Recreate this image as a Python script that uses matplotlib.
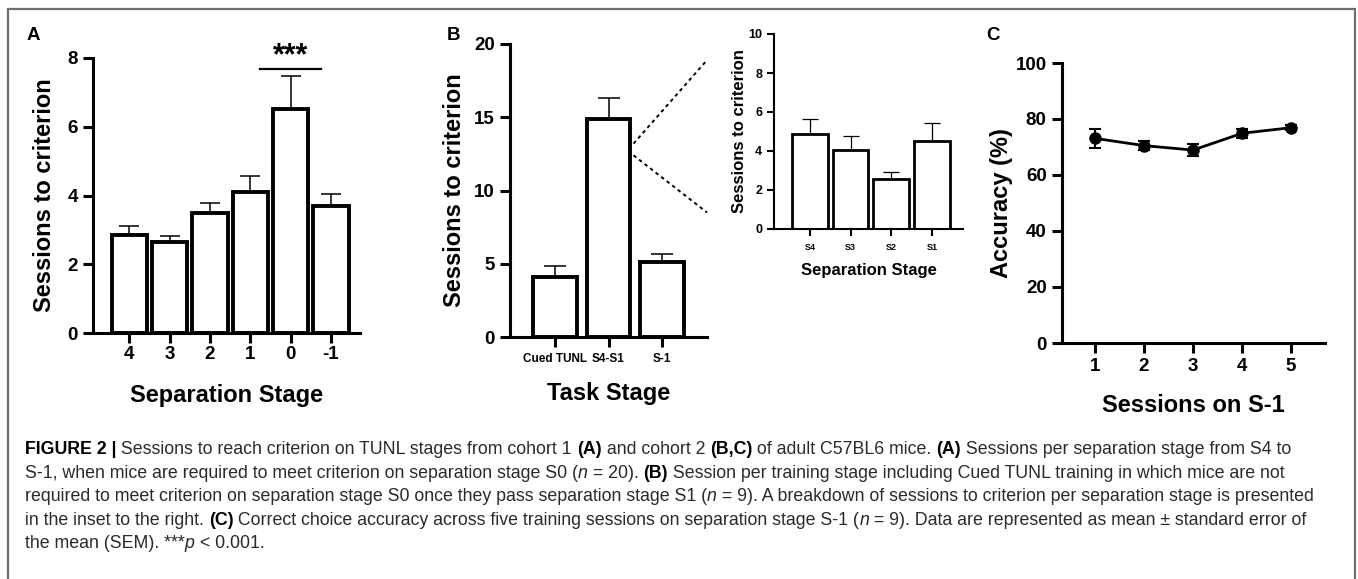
import numpy as np
import matplotlib.pyplot as plt
from matplotlib.patches import Rectangle

plt.rcParams['font.family'] = ['Liberation Sans', 'DejaVu Sans']
plt.rcParams['font.weight'] = 'bold'

# panel A - cohort 1, sessions per separation stage
a_stages = ['4', '3', '2', '1', '0', '-1']
a_mean = [2.85, 2.65, 3.5, 4.1, 6.52, 3.7]
a_sem = [0.25, 0.18, 0.28, 0.47, 0.96, 0.35]

# panel B - cohort 2, sessions per task stage
b_stages = ['Cued TUNL', 'S4-S1', 'S-1']
b_mean = [4.1, 14.9, 5.1]
b_sem = [0.75, 1.4, 0.57]

# inset - breakdown of S4-S1
in_stages = ['S4', 'S3', 'S2', 'S1']
in_mean = [4.87, 4.05, 2.56, 4.51]
in_sem = [0.77, 0.72, 0.36, 0.93]

# panel C - accuracy on S-1
c_sessions = [1, 2, 3, 4, 5]
c_mean = [73.1, 70.5, 68.9, 74.9, 76.9]
c_sem = [3.3, 1.5, 2.2, 1.6, 1.0]

caption = [
    [("FIGURE 2 |", 'b'), (" Sessions to reach criterion on TUNL stages from cohort 1 ", 'n'), ("(A)", 'b'),
     (" and cohort 2 ", 'n'), ("(B,C)", 'b'), (" of adult C57BL6 mice. ", 'n'), ("(A)", 'b'),
     (" Sessions per separation stage from S4 to", 'n')],
    [("S-1, when mice are required to meet criterion on separation stage S0 (", 'n'), ("n", 'i'),
     (" = 20). ", 'n'), ("(B)", 'b'),
     (" Session per training stage including Cued TUNL training in which mice are not", 'n')],
    [("required to meet criterion on separation stage S0 once they pass separation stage S1 (", 'n'),
     ("n", 'i'), (" = 9). A breakdown of sessions to criterion per separation stage is presented", 'n')],
    [("in the inset to the right. ", 'n'), ("(C)", 'b'),
     (" Correct choice accuracy across five training sessions on separation stage S-1 (", 'n'),
     ("n", 'i'), (" = 9). Data are represented as mean \u00b1 standard error of", 'n')],
    [("the mean (SEM). ***", 'n'), ("p", 'i'), (" < 0.001.", 'n')],
]

W, H = 1358, 579
fig = plt.figure(figsize=(W / 100, H / 100), dpi=100)


def px_axes(left, top, right, bottom):
    return fig.add_axes([left / W, 1 - bottom / H, (right - left) / W, (bottom - top) / H])


def style_axes(ax, lw, tick_len, tick_size):
    for s in ['top', 'right']:
        ax.spines[s].set_visible(False)
    for s in ['left', 'bottom']:
        ax.spines[s].set_linewidth(lw)
    ax.tick_params(axis='both', direction='out', length=tick_len, width=lw, labelsize=tick_size)
    for lab in ax.get_xticklabels() + ax.get_yticklabels():
        lab.set_fontweight('bold')


def bar_panel(ax, labels, mean, sem, width, lw, elw, cap):
    x = np.arange(len(labels))
    ax.bar(x, mean, width=width, color='white', edgecolor='black', linewidth=lw, zorder=2)
    ax.errorbar(x, mean, yerr=[np.zeros(len(x)), sem], fmt='none', ecolor='black',
                elinewidth=elw, capsize=cap, capthick=elw, zorder=3)
    ax.set_xticks(x)
    ax.set_xticklabels(labels)
    return x


# ---- panel A
axA = px_axes(93, 58, 360, 333)
xa = bar_panel(axA, a_stages, a_mean, a_sem, 0.87, 2.8, 1.1, 7)
axA.set_ylim(0, 8)
axA.set_yticks([0, 2, 4, 6, 8])
axA.set_xlim(-0.9, 5.72)
style_axes(axA, 2.2, 7.5, 13.5)
axA.tick_params(axis='x', pad=2)
axA.set_ylabel('Sessions to criterion', fontsize=17, fontweight='bold', labelpad=8)
axA.set_xlabel('Separation Stage', fontsize=17, fontweight='bold', labelpad=15)
axA.plot([xa[4] - 0.75, xa[4] + 0.75], [7.68, 7.68], color='black', lw=1.6, clip_on=False)
axA.text(xa[4], 7.6, '***', ha='center', va='bottom', fontsize=22, fontweight='bold')
fig.text(33 / W, 1 - 35 / H, 'A', fontsize=13.5, fontweight='bold', ha='center', va='center')

# ---- panel B
axB = px_axes(510, 44, 707, 337)
xb = bar_panel(axB, b_stages, b_mean, b_sem, 0.82, 2.8, 1.1, 8)
axB.set_ylim(0, 20)
axB.set_yticks([0, 5, 10, 15, 20])
axB.set_xlim(-0.85, 2.85)
style_axes(axB, 2.2, 7.5, 13.5)
axB.tick_params(axis='x', labelsize=8.5, pad=4)
axB.set_ylabel('Sessions to criterion', fontsize=17, fontweight='bold', labelpad=6)
axB.set_xlabel('Task Stage', fontsize=17, fontweight='bold', labelpad=12)
# dotted lines from S4-S1 bar toward the inset
axB.plot([1.47, 2.85], [13.2, 18.9], color='black', lw=1.4, ls=(0, (1.8, 1.8)), clip_on=False)
axB.plot([1.47, 2.85], [12.4, 8.5], color='black', lw=1.4, ls=(0, (1.8, 1.8)), clip_on=False)
fig.text(453 / W, 1 - 35 / H, 'B', fontsize=13.5, fontweight='bold', ha='center', va='center')

# ---- inset
axI = px_axes(774, 34, 963, 229)
bar_panel(axI, in_stages, in_mean, in_sem, 0.88, 2.0, 0.9, 6)
axI.set_ylim(0, 10)
axI.set_yticks([0, 2, 4, 6, 8, 10])
axI.set_xlim(-0.88, 3.76)
style_axes(axI, 1.5, 5, 9)
axI.tick_params(axis='x', labelsize=6.5, pad=5)
axI.set_ylabel('Sessions to criterion', fontsize=12, fontweight='bold', labelpad=1)
axI.set_xlabel('Separation Stage', fontsize=12, fontweight='bold', labelpad=8)

# ---- panel C
axC = px_axes(1062, 63, 1325, 343)
axC.errorbar(c_sessions, c_mean, yerr=c_sem, fmt='-o', color='black', lw=2, ms=8,
             elinewidth=1.5, capsize=4, capthick=1.5, clip_on=False, zorder=3)
axC.set_ylim(0, 100)
axC.set_yticks([0, 20, 40, 60, 80, 100])
axC.set_xlim(0.33, 5.69)
axC.set_xticks(c_sessions)
style_axes(axC, 2.2, 7.5, 13.5)
axC.tick_params(axis='x', pad=3)
axC.set_ylabel('Accuracy (%)', fontsize=17, fontweight='bold', labelpad=2)
axC.set_xlabel('Sessions on S-1', fontsize=17, fontweight='bold', labelpad=14)
fig.text(993 / W, 1 - 35 / H, 'C', fontsize=13.5, fontweight='bold', ha='center', va='center')

# ---- frame around the figure
fig.patches.append(Rectangle((8 / W, -0.05), (1355 - 8) / W, 1.05 - 9 / H, transform=fig.transFigure,
                             fill=False, edgecolor='#6e6e6e', linewidth=1.6))

# ---- caption with mixed bold / italic runs
cap_family = ['Liberation Sans Narrow', 'Liberation Sans', 'DejaVu Sans']
cap_size = 12.8
renderer = fig.canvas.get_renderer()


def run_width(txt, weight, style):
    t1 = fig.text(0, 0, '|' + txt + '|', fontsize=cap_size, family=cap_family, fontweight=weight, fontstyle=style)
    t2 = fig.text(0, 0, '||', fontsize=cap_size, family=cap_family, fontweight=weight, fontstyle=style)
    w = t1.get_window_extent(renderer).width - t2.get_window_extent(renderer).width
    t1.remove()
    t2.remove()
    return w


styles = {'n': ('normal', 'normal', '#2a2a2a'), 'b': ('bold', 'normal', 'black'), 'i': ('normal', 'italic', '#2a2a2a')}
baseline = 454
for line in caption:
    x = 25
    for txt, st in line:
        weight, fstyle, col = styles[st]
        fig.text(x / W, 1 - baseline / H, txt, fontsize=cap_size, family=cap_family,
                 fontweight=weight, fontstyle=fstyle, color=col, va='baseline', ha='left')
        x += run_width(txt, weight, fstyle)
    baseline += 23.6

fig.savefig('out.png', dpi=100)
